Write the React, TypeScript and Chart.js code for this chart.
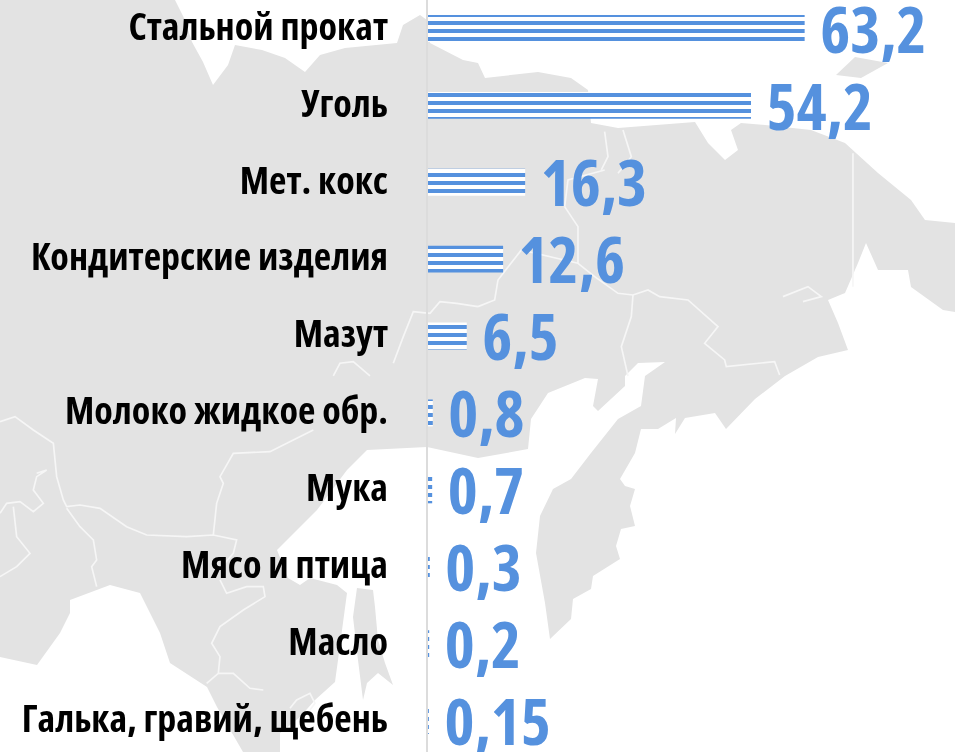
import { useEffect, useRef } from "react";
import { Chart, registerables } from "chart.js";
Chart.register(...registerables);

const categories = ["Стальной прокат","Уголь","Мет. кокс","Кондитерские изделия","Мазут","Молоко жидкое обр.","Мука","Мясо и птица","Масло","Галька, гравий, щебень"];
const values = [63.2,54.2,16.3,12.6,6.5,0.8,0.7,0.3,0.2,0.15];
const valueLabels = ["63,2","54,2","16,3","12,6","6,5","0,8","0,7","0,3","0,2","0,15"];

const LAND = "#e3e3e3";
const mainLand = "M0,0 L175,0 L185,20 L192,42 L203,62 L213,85 L228,65 L235,45 L262,50 L285,58 L305,72 L320,55 L345,48 L397,43 L403,25 L420,15 L427,20 L430,43 L463,60 L478,63 L485,78 L538,72 L571,78 L588,90 L591,123 L618,128 L695,122 L708,143 L725,160 L738,150 L731,130 L741,123 L765,125 L811,130 L845,143 L878,173 L911,200 L925,220 L955,223 L955,312 L943,310 L911,287 L908,270 L878,270 L866,243 L858,263 L845,293 L828,300 L838,323 L848,350 L818,357 L785,376 L755,399 L726,429 L715,413 L685,418 L675,434 L676,418 L658,429 L641,429 L635,453 L620,479 L625,486 L635,489 L630,506 L635,526 L621,529 L616,546 L620,559 L593,576 L591,589 L573,599 L571,619 L550,639 L545,603 L536,553 L540,516 L553,489 L571,479 L591,453 L618,419 L641,406 L645,376 L665,362 L638,363 L625,376 L625,386 L598,411 L593,406 L598,379 L585,378 L548,393 L531,419 L528,449 L478,458 L427,447 L367,450 L347,470 L317,510 L277,550 L288,578 L300,585 L310,578 L337,585 L347,593 L338,660 L335,682 L315,700 L300,717 L280,733 L280,752 L243,752 L217,707 L207,687 L170,663 L160,633 L140,593 L110,585 L70,600 L70,613 L60,633 L37,665 L0,657 Z";
const sakhalin = "M357,588 L373,590 L375,607 L378,640 L385,663 L393,685 L378,673 L367,683 L363,700 L358,660 L353,617 Z";
const island = "M836,75 L855,57 L888,63 L861,78 Z";
const bordersA = ["0,125 45,110 100,150 160,190 170,290 190,360 200,380 240,375 300,385 380,440 440,465 560,470 640,465 710,480 700,520 640,590","640,465 650,370 670,310 660,290 700,220 810,215 880,180 940,150","110,280 140,270 110,290 100,330 130,370 100,395 60,365 20,370 0,400","40,380 50,470 90,520 50,560 0,590","200,385 240,440 280,480 290,540 275,560 290,620","660,600 680,640 740,620 790,620 795,650 730,690 660,740 635,790 660,830 655,880 620,910","655,880 700,880 750,925 790,930","870,985 890,960 930,940 945,970 930,990"];
const bordersB = ["260,620 300,680 300,790 350,830 420,880 465,885 510,870 545,890 630,900 720,980 680,1030 740,1080 745,1100 890,1085 905,1125","465,885 460,950 430,1040 450,1128","380,510 270,540 260,620","380,395 390,470 370,510","435,390 460,470 420,520","300,790 130,750 60,840 50,900 0,920","1125,460 1125,860","915,890 990,860 1030,890 975,905"];
const bordersC = ["1434,920 1370,910 1320,905 1290,940 1240,935 1210,1010 1180,1090","1000,1128 1020,1090 1060,1085 1110,1128"];

export default function App() {
  const ref = useRef<HTMLCanvasElement>(null);
  useEffect(() => {
    const c = ref.current!;
    const pc = document.createElement("canvas");
    pc.width = 8; pc.height = 8;
    const px = pc.getContext("2d")!;
    px.fillStyle = "#fff"; px.fillRect(0,0,8,8);
    px.fillStyle = "#5591de";
    px.fillRect(0,7,8,1); px.fillRect(0,0,8,3);
    const pattern = c.getContext("2d")!.createPattern(pc,"repeat")!;
    const chart = new Chart(c, {
      type: "bar",
      data: { labels: categories, datasets: [{ data: values, backgroundColor: pattern as any, barPercentage: 1, categoryPercentage: 0.35 }] },
      options: {
        indexAxis: "y", responsive: false, animation: false,
        layout: { padding: 0 },
        plugins: { legend: { display: false }, tooltip: { enabled: false } },
        scales: {
          x: { min: -0.168, max: 88.43, display: false },
          y: {
            grid: { display: false, tickLength: 0 },
            border: { color: "#dcdcdc", width: 2 },
            ticks: { color: "#000", padding: 39, font: { family: "'Open Sans'", weight: "condensed bold" as any, size: 38 } },
            afterFit: (s: any) => {
              s.width = 427; s.paddingTop = 0; s.paddingBottom = 0;
              const orig = s._computeLabelItems.bind(s);
              s._computeLabelItems = (ca: any) => orig(ca).map((it: any) => ({ ...it, textOffset: it.textOffset + 0.5 }));
            },
          },
        },
      },
      plugins: [{
        id: "vals",
        afterDatasetsDraw(ch: any) {
          const g = ch.ctx, m = ch.getDatasetMeta(0);
          g.save();
          g.font = "condensed bold 64px 'Open Sans'";
          g.fillStyle = "#5591de"; g.textBaseline = "middle";
          m.data.forEach((b: any, i: number) => g.fillText(valueLabels[i], b.x + 15.5, b.y + 6));
          g.restore();
        },
      }],
    });
    return () => chart.destroy();
  }, []);
  return (
    <div style={{ position: "fixed", left: 0, top: 0, width: 955, height: 752, overflow: "hidden", background: "#fff" }}>
      <svg width={955} height={752} style={{ position: "absolute", left: 0, top: 0, filter: "blur(0.6px)" }}>
        <path d={mainLand} fill={LAND} />
        <path d={sakhalin} fill={LAND} />
        <path d={island} fill={LAND} />
        <g transform="translate(0,380) scale(0.3333)" fill="none" stroke="#f6f6f6" strokeWidth={5}>
          {bordersA.map((p, i) => <polyline key={i} points={p} />)}
        </g>
        <g transform="translate(478,0) scale(0.3333)" fill="none" stroke="#f6f6f6" strokeWidth={5}>
          {bordersB.map((p, i) => <polyline key={i} points={p} />)}
        </g>
        <g transform="scale(0.3333)" fill="none" stroke="#f6f6f6" strokeWidth={5}>
          {bordersC.map((p, i) => <polyline key={i} points={p} />)}
        </g>
      </svg>
      <canvas ref={ref} width={955} height={769} style={{ position: "absolute", left: 0, top: -10 }} />
    </div>
  );
}
